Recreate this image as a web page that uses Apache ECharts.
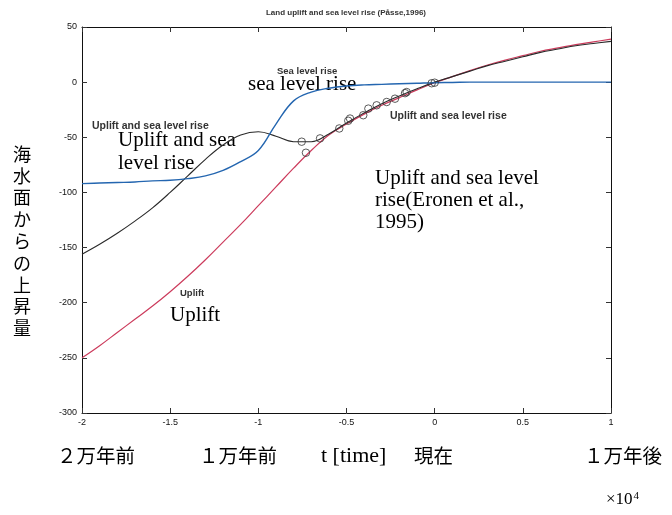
<!DOCTYPE html>
<html><head><meta charset="utf-8">
<script src="https://cdn.jsdelivr.net/npm/echarts@6/dist/echarts.min.js"></script>
<style>html,body{margin:0;padding:0;background:#fff}#c{width:672px;height:515px}</style>
</head><body><div id="c"></div>
<script>
// time in units of 10^4 years
const tGrid = [-2.0,-1.9,-1.8,-1.7,-1.6,-1.5,-1.4,-1.3,-1.2,-1.1,-1.0,-0.9,-0.8,-0.7,-0.6,-0.5,-0.4,-0.3,-0.2,-0.1,0.0,0.1,0.2,0.3,0.4,0.5,0.6,0.7,0.8,0.9,1.0];
const seaLevelRise = [-92,-91.5,-91,-90.5,-89.5,-89,-87.5,-85,-80,-72,-62,-38,-17,-9,-5.5,-3.5,-2.5,-2,-1.5,-1,-0.5,-0.3,0,0,0,0,0,0,0,0,0];
const upliftAndSea = [-156,-147,-137,-126,-114,-100,-85,-70,-57,-48,-45,-49,-54,-54,-47,-37,-28,-19.5,-12.5,-6,0,5,10,15,19,23,27,30,33,35,37];
const upliftOnly = [-250,-239,-227,-215,-203,-190,-176,-161,-145,-129,-112,-95,-78,-62,-48,-38,-29,-21,-14,-7,-0.5,5,10.5,15.5,20,24,28,31,34,36.5,39];
const eronenT = [-0.754,-0.730,-0.650,-0.541,-0.490,-0.480,-0.405,-0.376,-0.329,-0.272,-0.225,-0.168,-0.159,-0.017,0.0];
const eronenH = [-54,-64,-51,-42,-35,-33,-30,-24,-21,-18,-15,-10,-9,-1,-0.5];
const titleText = 'Land uplift and sea level rise (Påsse,1996)';
const yName = '海水面からの上昇量';
const bottomLabels = ['２万年前','１万年前','t [time]','現在','１万年後'];

const pairs = (xs, ys) => xs.map((x, i) => [x, ys[i]]);
const SANS = '"Liberation Sans", Arial, sans-serif';
const SERIF = '"Liberation Serif", "Times New Roman", serif';
const CJK = '"Noto Sans CJK JP", sans-serif';

const chart = echarts.init(document.getElementById('c'), null, {renderer: 'canvas'});
const axisCommon = {
  axisLine: {show: true, onZero: false, lineStyle: {color: '#111', width: 1}},
  axisTick: {show: true, inside: true, length: 5, lineStyle: {color: '#333'}},
  splitLine: {show: false}
};
const opt = {
  animation: false,
  backgroundColor: '#fff',
  grid: {left: 82, right: 61, top: 27, bottom: 102},
  xAxis: [
    Object.assign({type: 'value', min: -2, max: 1, interval: 0.5, position: 'bottom',
      axisLabel: {show: true, margin: 5, fontSize: 9, color: '#111', fontFamily: SANS}}, axisCommon),
    Object.assign({type: 'value', min: -2, max: 1, interval: 0.5, position: 'top',
      axisLabel: {show: false}}, axisCommon)
  ],
  yAxis: [
    Object.assign({type: 'value', min: -300, max: 50, interval: 50, position: 'left',
      axisLabel: {show: true, margin: 5, fontSize: 9, color: '#111', fontFamily: SANS}}, axisCommon),
    Object.assign({type: 'value', min: -300, max: 50, interval: 50, position: 'right',
      axisLabel: {show: false}}, axisCommon)
  ],
  series: [
    {type: 'line', name: 'Uplift', data: pairs(tGrid, upliftOnly), smooth: 0.4, showSymbol: false,
      lineStyle: {color: '#cc3b5c', width: 1.2}, z: 2},
    {type: 'line', name: 'Uplift and sea level rise', data: pairs(tGrid, upliftAndSea), smooth: 0.4, showSymbol: false,
      lineStyle: {color: '#2a2a2a', width: 1.1}, z: 3},
    {type: 'line', name: 'Sea level rise', data: pairs(tGrid, seaLevelRise), smooth: 0.4, showSymbol: false,
      lineStyle: {color: '#2466b0', width: 1.4}, z: 4},
    {type: 'scatter', name: 'Eronen et al., 1995', data: pairs(eronenT, eronenH), symbol: 'circle', symbolSize: 7.5,
      itemStyle: {color: 'rgba(255,255,255,0)', borderColor: '#333', borderWidth: 1}, z: 5}
  ],
  graphic: [
    {type: 'text', x: 346, y: 13, style: {text: titleText, font: 'bold 8px ' + SANS, fill: '#333', textAlign: 'center', textVerticalAlign: 'middle'}},
    {type: 'text', x: 22, y: 143, style: {text: yName.split('').join('\n'), font: '18px ' + CJK, lineHeight: 21.8, fill: '#000', textAlign: 'center', textVerticalAlign: 'top'}},
    {type: 'text', x: 57, y: 456, style: {text: bottomLabels[0], font: '19.5px ' + CJK, fill: '#000', textVerticalAlign: 'middle'}},
    {type: 'text', x: 199, y: 456, style: {text: bottomLabels[1], font: '19.5px ' + CJK, fill: '#000', textVerticalAlign: 'middle'}},
    {type: 'text', x: 321, y: 456, style: {text: bottomLabels[2], font: '22px ' + SERIF, fill: '#000', textVerticalAlign: 'middle'}},
    {type: 'text', x: 414, y: 456, style: {text: bottomLabels[3], font: '19.5px ' + CJK, fill: '#000', textVerticalAlign: 'middle'}},
    {type: 'text', x: 584, y: 456, style: {text: bottomLabels[4], font: '19.5px ' + CJK, fill: '#000', textVerticalAlign: 'middle'}},
    {type: 'text', x: 606, y: 500, style: {text: '{a|×10}{b|4}', fill: '#000', textVerticalAlign: 'middle',
      rich: {a: {font: '17px ' + SERIF, fill: '#000'}, b: {font: '11px ' + SERIF, fill: '#000', verticalAlign: 'top', padding: [0,0,8,1]}}}},
    // small labels from the original figure
    {type: 'text', x: 277, y: 71, style: {text: 'Sea level rise', font: 'bold 9.5px ' + SANS, fill: '#333', textVerticalAlign: 'middle'}},
    {type: 'text', x: 92, y: 126, style: {text: 'Uplift and sea level rise', font: 'bold 10.5px ' + SANS, fill: '#333', textVerticalAlign: 'middle'}},
    {type: 'text', x: 390, y: 116, style: {text: 'Uplift and sea level rise', font: 'bold 10.5px ' + SANS, fill: '#333', textVerticalAlign: 'middle'}},
    {type: 'text', x: 180, y: 293, style: {text: 'Uplift', font: 'bold 9.5px ' + SANS, fill: '#333', textVerticalAlign: 'middle'}},
    // large serif labels
    {type: 'text', x: 248, y: 84, style: {text: 'sea level rise', font: '21px ' + SERIF, fill: '#000', textVerticalAlign: 'middle'}},
    {type: 'text', x: 118, y: 129, style: {text: 'Uplift and sea\nlevel rise', font: '21px ' + SERIF, lineHeight: 23, fill: '#000', textVerticalAlign: 'top'}},
    {type: 'text', x: 375, y: 167, style: {text: 'Uplift and sea level\nrise(Eronen et al.,\n1995)', font: '21px ' + SERIF, lineHeight: 22, fill: '#000', textVerticalAlign: 'top'}},
    {type: 'text', x: 170, y: 315, style: {text: 'Uplift', font: '21px ' + SERIF, fill: '#000', textVerticalAlign: 'middle'}}
  ]
};
chart.setOption(opt);
</script>
</body></html>
